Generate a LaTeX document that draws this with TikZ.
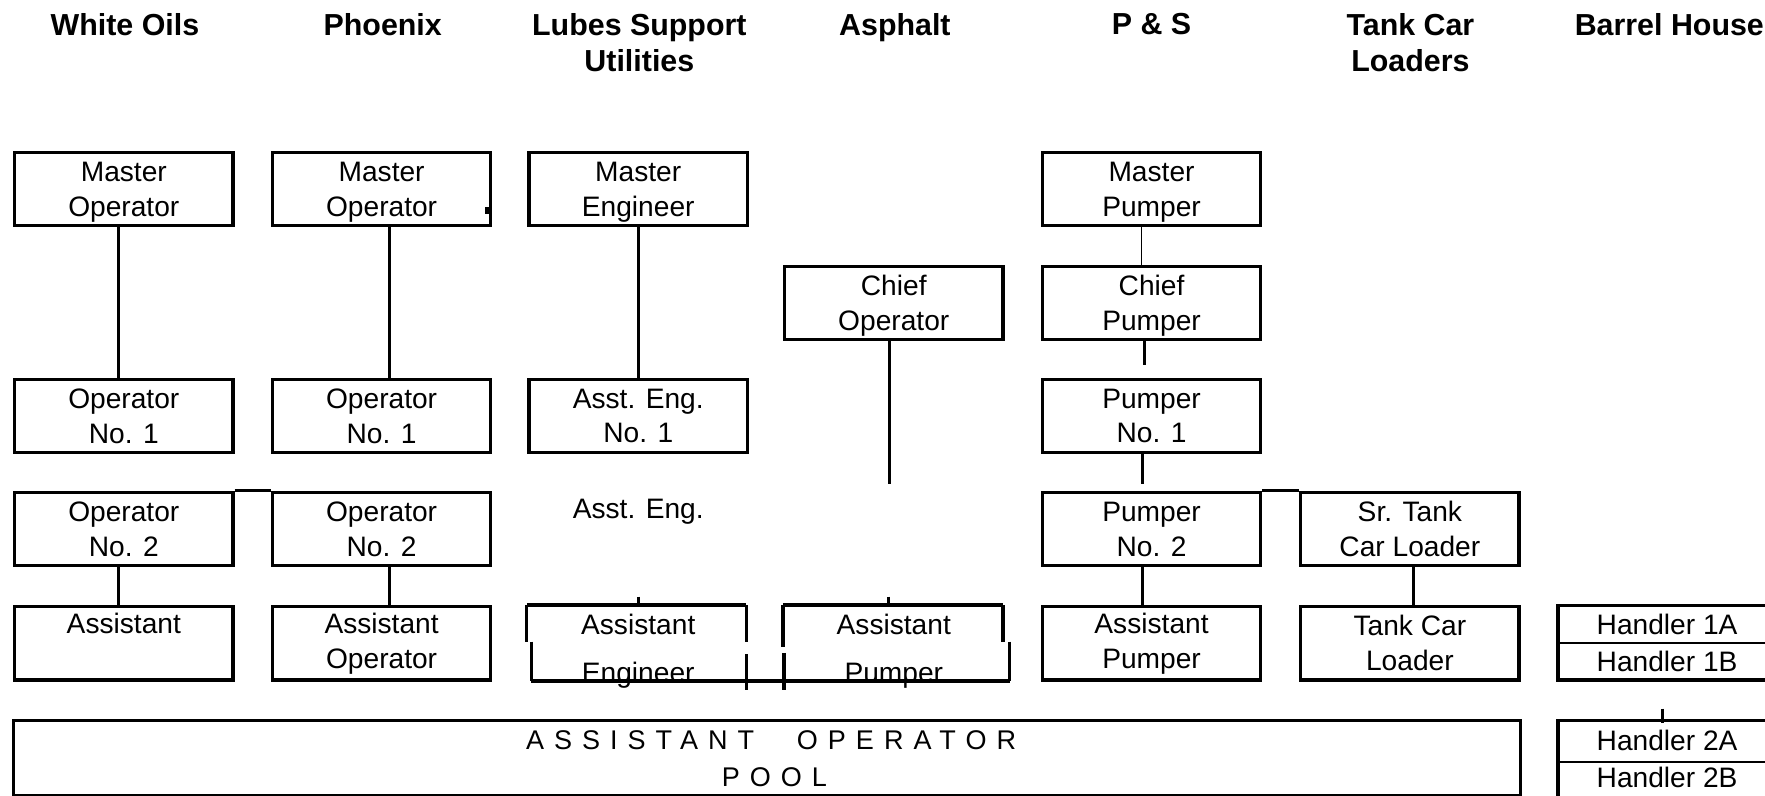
\documentclass[tikz,border=0pt]{standalone}
\usepackage{fontspec}
\setmainfont{Liberation Sans}
\newfontfamily\poolfont[LetterSpace=37]{Liberation Sans}
\usetikzlibrary{calc}
\begin{document}
\begin{tikzpicture}[x=1pt,y=-1pt,
  box/.style={draw, line width=3pt, minimum width=194pt, minimum height=65pt, inner sep=0pt, align=center, font=\fontsize{25}{31}\selectfont},
  txt/.style={inner sep=0pt, align=center, font=\fontsize{25}{31}\selectfont},
  hdr/.style={inner sep=0pt, align=center, anchor=north, font=\fontsize{27}{32}\selectfont\bfseries},
  conn/.style={line width=2.5pt},
  edge/.style={line width=3pt},
  hbox/.style={draw, line width=3pt, minimum width=194pt, inner sep=0pt, align=center, font=\fontsize{25}{33}\selectfont},
]
\useasboundingbox (0,0) rectangle (1568,707);

% headers
\node[hdr] (h1) at (111,12) {White Oils};
\node[hdr] (h2) at (340,12) {Phoenix};
\node[hdr] (h3) at (568,12) {Lubes Support\\Utilities};
\node[hdr] (h4) at (795,12) {Asphalt};
\node[hdr] (h5) at (1023,12) {P \& S};
\node[hdr] (h6) at (1253,12) {Tank Car\\Loaders};
\node[hdr] (h7) at (1483,12) {Barrel House};

% row 1 (text set slightly low, as in the reference)
\node[box] (mo1) at (110,168) {};
\node[txt] (mo1t) at ([yshift=-3pt]mo1.center) {Master\\Operator};
\node[box] (mo2) at (339,168) {};
\node[txt] (mo2t) at ([yshift=-3pt]mo2.center) {Master\\Operator};
\node[box] (me)  at (567,168) {};
\node[txt] (met) at ([yshift=-3pt]me.center) {Master\\Engineer};
\node[box] (mp)  at (1023,168) {};
\node[txt] (mpt) at ([yshift=-3pt]mp.center) {Master\\Pumper};
% row 2
\node[box] (co) at (794,269) {};
\node[txt] (cot) at ([yshift=-2.5pt]co.center) {Chief\\Operator};
\node[box] (cp) at (1023,269) {};
\node[txt] (cpt) at ([yshift=-2.5pt]cp.center) {Chief\\Pumper};
% row 3
\node[box] (o1a) at (110,369.5) {Operator\\No. 1};
\node[box] (o1b) at (339,369.5) {Operator\\No. 1};
\node[box] (ae1) at (567,369.5) {Asst. Eng.\\No. 1};
\node[box] (p1)  at (1023,369.5) {Pumper\\No. 1};
% row 4
\node[box] (o2a) at (110,470) {Operator\\No. 2};
\node[box] (o2b) at (339,470) {Operator\\No. 2};
\node[txt] (ae2) at (567,455) {Asst. Eng.};
\node[box] (p2)  at (1023,470) {Pumper\\No. 2};
\node[box] (st)  at (1252.5,470) {Sr. Tank\\Car Loader};
% row 5
\node[box] (as1) at (110,571.5) {Assistant\\\phantom{Operator}};
\node[box] (as2) at (339,571.5) {Assistant\\Operator};
\node[box] (ap)  at (1023,571.5) {Assistant\\Pumper};
\node[box] (tc)  at (1252.5,571.5) {Tank Car\\Loader};

% composite assistant engineer / assistant pumper
\node[txt, anchor=base] (aeA) at (567,564) {Assistant};
\node[txt, anchor=base] (aeB) at (567,606) {Engineer};
\node[txt, anchor=base] (apA) at (794,564) {Assistant};
\node[txt, anchor=base] (apB) at (794,606) {Pumper};
\draw[edge] (468,537.5) -- (663,537.5);
\draw[edge] (468,537.5) -- (468,570);
\draw[edge] (472,570) -- (472,605);
\draw[edge] (472,605) -- (897,605);
\draw[edge] (663,537.5) -- (663,570);
\draw[edge] (663,581) -- (663,613);
\draw[edge] (695.5,537.5) -- (891,537.5);
\draw[edge] (695.5,537.5) -- (695.5,575);
\draw[edge] (696.5,580) -- (696.5,613);
\draw[edge] (891,537.5) -- (891,570);
\draw[edge] (897,570) -- (897,605);
\draw[conn] (567,530) -- (567,538);
\draw[conn] (789,530) -- (789,538);

% barrel house handlers
\node[hbox, minimum height=66.5pt] (hd1) at (1481,571) {Handler 1A\\Handler 1B};
\draw[line width=1.5pt] (hd1.west) -- (hd1.east);
\node[hbox, minimum height=72pt] (hd2) at (1481,676) {};
\node[txt, font=\fontsize{25}{33}\selectfont] (hd2t) at ([yshift=2pt]hd2.center) {Handler 2A\\Handler 2B};
\draw[line width=1.5pt] ([yshift=-1pt]hd2.west) -- ([yshift=-1pt]hd2.east);
\draw[conn] ([xshift=-4pt,yshift=9pt]hd2.north) -- ([xshift=-4pt,yshift=-4pt]hd2.north);

% pool
\node[draw, line width=3pt, minimum width=1339pt, minimum height=67pt, inner sep=0pt] (pool) at (681.5,673.5) {};
\node[inner sep=0pt, anchor=base, font=\fontsize{24}{32}\poolfont] (poolA) at (685,666) {ASSISTANT\hspace{38pt}OPERATOR};
\node[inner sep=0pt, anchor=base, font=\fontsize{24}{32}\poolfont] (poolB) at (688,699) {POOL};

% connectors
\draw[conn] ([xshift=-5pt]mo1.south) -- ([xshift=-5pt]o1a.north);
\draw[conn] ([xshift=7pt]mo2.south) -- ([xshift=7pt]o1b.north);
\draw[conn] (me.south) -- (ae1.north);
\draw[line width=1pt] ([xshift=-9pt]mp.south) -- ([xshift=-9pt]cp.north);
\draw[conn] ([xshift=-6pt]cp.south) -- ([xshift=-6pt,yshift=11pt]p1.north);
\draw[conn] ([xshift=-8pt]p1.south) -- ([xshift=-8pt,yshift=6pt]p2.north);
\coordinate (coend) at (790,430);
\draw[conn] ([xshift=-4pt]co.south) -- (coend);
\draw[edge] (o2a.north east) -- (o2b.north west);
\draw[edge] (p2.north east) -- (st.north west);
\draw[conn] ([xshift=-5pt]o2a.south) -- ([xshift=-5pt]as1.north);
\draw[conn] ([xshift=7pt]o2b.south) -- ([xshift=7pt]as2.north);
\draw[conn] ([xshift=-8pt]p2.south) -- ([xshift=-8pt]ap.north);
\draw[conn] ([xshift=3.5pt]st.south) -- ([xshift=3.5pt]tc.north);
\fill (431,184) rectangle (436,190);
\end{tikzpicture}
\end{document}
